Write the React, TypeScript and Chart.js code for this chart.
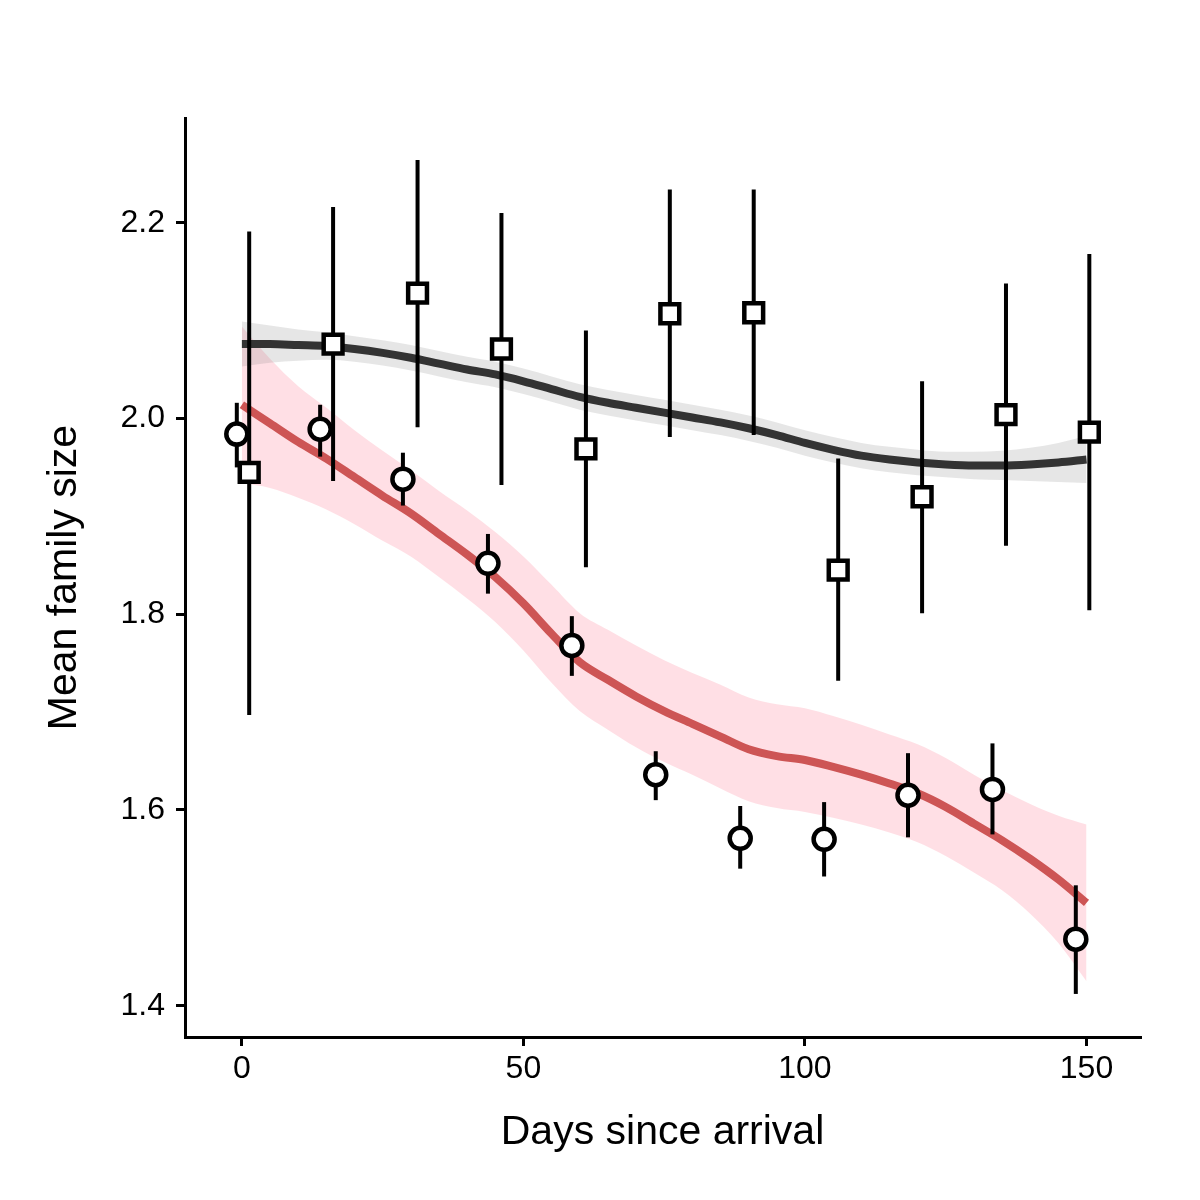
import React, { useEffect, useRef } from "react";
import { Chart, registerables } from "chart.js";

Chart.register(...registerables);

// ---- Data ----
const circleX = [-0.9, 13.9, 28.6, 43.7, 58.6, 73.5, 88.5, 103.4, 118.3, 133.3, 148.1];
const circleY = [1.984, 1.989, 1.938, 1.852, 1.768, 1.636, 1.571, 1.570, 1.615, 1.621, 1.468];
const circleLo = [1.950, 1.961, 1.911, 1.821, 1.737, 1.610, 1.540, 1.532, 1.572, 1.575, 1.412];
const circleHi = [2.016, 2.014, 1.965, 1.882, 1.798, 1.660, 1.604, 1.608, 1.658, 1.668, 1.523];

const squareX = [1.3, 16.2, 31.2, 46.1, 61.1, 76.0, 90.9, 105.9, 120.8, 135.7, 150.5];
const squareY = [1.945, 2.076, 2.128, 2.071, 1.969, 2.107, 2.108, 1.845, 1.920, 2.004, 1.986];
const squareLo = [1.697, 1.936, 1.991, 1.932, 1.848, 1.981, 1.983, 1.732, 1.801, 1.870, 1.804];
const squareHi = [2.191, 2.216, 2.264, 2.210, 2.090, 2.234, 2.234, 1.959, 2.038, 2.138, 2.168];

const smoothX = [0, 5, 10, 15, 20, 25, 30, 35, 40, 45, 50, 55, 60, 65, 70, 75, 80, 85, 90, 95, 100, 105, 110, 115, 120, 125, 130, 135, 140, 145, 150];
const redFit = [2.014, 1.995, 1.976, 1.959, 1.940, 1.921, 1.903, 1.882, 1.861, 1.838, 1.811, 1.780, 1.751, 1.733, 1.716, 1.701, 1.688, 1.675, 1.662, 1.655, 1.651, 1.644, 1.636, 1.627, 1.617, 1.603, 1.586, 1.569, 1.550, 1.529, 1.505];
const redHi = [2.094, 2.061, 2.033, 2.011, 1.988, 1.967, 1.947, 1.926, 1.906, 1.884, 1.859, 1.830, 1.801, 1.784, 1.768, 1.753, 1.740, 1.728, 1.715, 1.708, 1.704, 1.696, 1.687, 1.677, 1.667, 1.653, 1.636, 1.620, 1.606, 1.594, 1.585];
const redLo = [1.934, 1.929, 1.919, 1.907, 1.892, 1.875, 1.859, 1.838, 1.816, 1.792, 1.763, 1.730, 1.701, 1.682, 1.664, 1.649, 1.636, 1.622, 1.609, 1.602, 1.598, 1.592, 1.585, 1.577, 1.567, 1.553, 1.536, 1.518, 1.494, 1.464, 1.425];
const blackFit = [2.076, 2.076, 2.075, 2.074, 2.071, 2.067, 2.062, 2.056, 2.050, 2.045, 2.038, 2.030, 2.022, 2.016, 2.011, 2.006, 2.001, 1.996, 1.990, 1.983, 1.975, 1.968, 1.962, 1.958, 1.955, 1.953, 1.952, 1.952, 1.953, 1.955, 1.958];
const blackHi = [2.099, 2.095, 2.091, 2.088, 2.084, 2.080, 2.075, 2.069, 2.063, 2.058, 2.051, 2.043, 2.035, 2.029, 2.024, 2.019, 2.014, 2.009, 2.003, 1.996, 1.988, 1.981, 1.975, 1.971, 1.968, 1.966, 1.966, 1.967, 1.970, 1.975, 1.982];
const blackLo = [2.053, 2.057, 2.059, 2.060, 2.058, 2.054, 2.049, 2.043, 2.037, 2.032, 2.025, 2.017, 2.009, 2.003, 1.998, 1.993, 1.988, 1.983, 1.977, 1.970, 1.962, 1.955, 1.949, 1.945, 1.942, 1.940, 1.938, 1.937, 1.936, 1.935, 1.934];

const xTicks = [0, 50, 100, 150];
const yTicks = [1.4, 1.6, 1.8, 2.0, 2.2];
const xTitle = "Days since arrival";
const yTitle = "Mean family size";

const pts = (xs: number[], ys: number[]) => xs.map((x, i) => ({ x, y: ys[i] }));

const errorBarPlugin = {
  id: "errorBars",
  beforeDatasetDraw(chart: any, args: any) {
    if (args.index !== 1) return;
    const { ctx, scales } = chart;
    const xs = scales.x, ys = scales.y;
    ctx.save();
    ctx.strokeStyle = "#000";
    ctx.lineWidth = 4;
    ctx.lineCap = "butt";
    const draw = (X: number[], L: number[], H: number[]) => {
      X.forEach((x, i) => {
        const px = xs.getPixelForValue(x);
        ctx.beginPath();
        ctx.moveTo(px, ys.getPixelForValue(L[i]));
        ctx.lineTo(px, ys.getPixelForValue(H[i]));
        ctx.stroke();
      });
    };
    draw(squareX, squareLo, squareHi);
    draw(circleX, circleLo, circleHi);
    ctx.restore();
  },
};

export default function App() {
  const ref = useRef<HTMLCanvasElement>(null);
  useEffect(() => {
    if (!ref.current) return;
    const font = "'Liberation Sans', Arial, Helvetica, sans-serif";
    const lineDs = (data: any, color: string) => ({
      data,
      borderColor: color,
      borderWidth: 8,
      pointRadius: 0,
      showLine: true,
      fill: false,
      cubicInterpolationMode: "monotone",
    });
    const bandDs = (data: any, bg: string, fill: any) => ({
      data,
      borderColor: "transparent",
      borderWidth: 0,
      backgroundColor: bg,
      pointRadius: 0,
      showLine: true,
      fill,
      cubicInterpolationMode: "monotone",
    });
    const chart = new Chart(ref.current, {
      type: "line",
      data: {
        datasets: [
          {
            data: pts(circleX, circleY),
            showLine: false,
            pointStyle: "circle",
            pointRadius: 10.5,
            pointBorderWidth: 4.5,
            pointBorderColor: "#000",
            pointBackgroundColor: "#fff",
          } as any,
          {
            data: pts(squareX, squareY),
            showLine: false,
            pointStyle: "rect",
            pointRadius: 13.3,
            pointBorderWidth: 4.5,
            pointBorderColor: "#000",
            pointBackgroundColor: "#fff",
          } as any,
          lineDs(pts(smoothX, blackFit), "#333333") as any,
          lineDs(pts(smoothX, redFit), "#CD5555") as any,
          bandDs(pts(smoothX, blackHi), "rgba(128,128,128,0.2)", "+1") as any,
          bandDs(pts(smoothX, blackLo), "rgba(128,128,128,0.2)", false) as any,
          bandDs(pts(smoothX, redHi), "rgba(255,192,203,0.5)", "+1") as any,
          bandDs(pts(smoothX, redLo), "rgba(255,192,203,0.5)", false) as any,
        ],
      },
      options: {
        responsive: false,
        animation: false,
        events: [],
        layout: { padding: { left: 0, top: 118, right: 60, bottom: 0 } },
        plugins: { legend: { display: false }, tooltip: { enabled: false }, filler: { drawTime: "beforeDatasetDraw" } as any },
        scales: {
          x: {
            type: "linear",
            min: -10.1,
            max: 159.5,
            afterBuildTicks: (s: any) => { s.ticks = xTicks.map((v) => ({ value: v })); },
            afterFit: (s: any) => { s.height = 163; },
            ticks: { color: "#000", font: { family: font, size: 32 }, padding: 4, maxRotation: 0, autoSkip: false, callback: (v: any) => String(v) },
            grid: { drawOnChartArea: false, drawTicks: true, tickLength: 9, color: "#000", lineWidth: 3 },
            border: { display: true, color: "#000", width: 3 },
            title: { display: true, text: xTitle, color: "#000", font: { family: font, size: 41 }, padding: { top: 0, bottom: 43 } },
          },
          y: {
            type: "linear",
            min: 1.368,
            max: 2.307,
            afterBuildTicks: (s: any) => { s.ticks = yTicks.map((v) => ({ value: v })); },
            afterFit: (s: any) => { s.width = 185; },
            ticks: { color: "#000", font: { family: font, size: 32 }, padding: 11, autoSkip: false, callback: (v: any) => Number(v).toFixed(1) },
            grid: { drawOnChartArea: false, drawTicks: true, tickLength: 9, color: "#000", lineWidth: 3 },
            border: { display: true, color: "#000", width: 3 },
            title: { display: true, text: yTitle, color: "#000", font: { family: font, size: 41 }, padding: { top: 40, bottom: 0 } },
          },
        },
      } as any,
      plugins: [errorBarPlugin],
    });
    return () => chart.destroy();
  }, []);
  return (
    <div style={{ position: "absolute", left: 0, top: 0, width: 1200, height: 1200, background: "#fff" }}>
      <canvas ref={ref} width={1200} height={1200} style={{ width: 1200, height: 1200 }} />
    </div>
  );
}
